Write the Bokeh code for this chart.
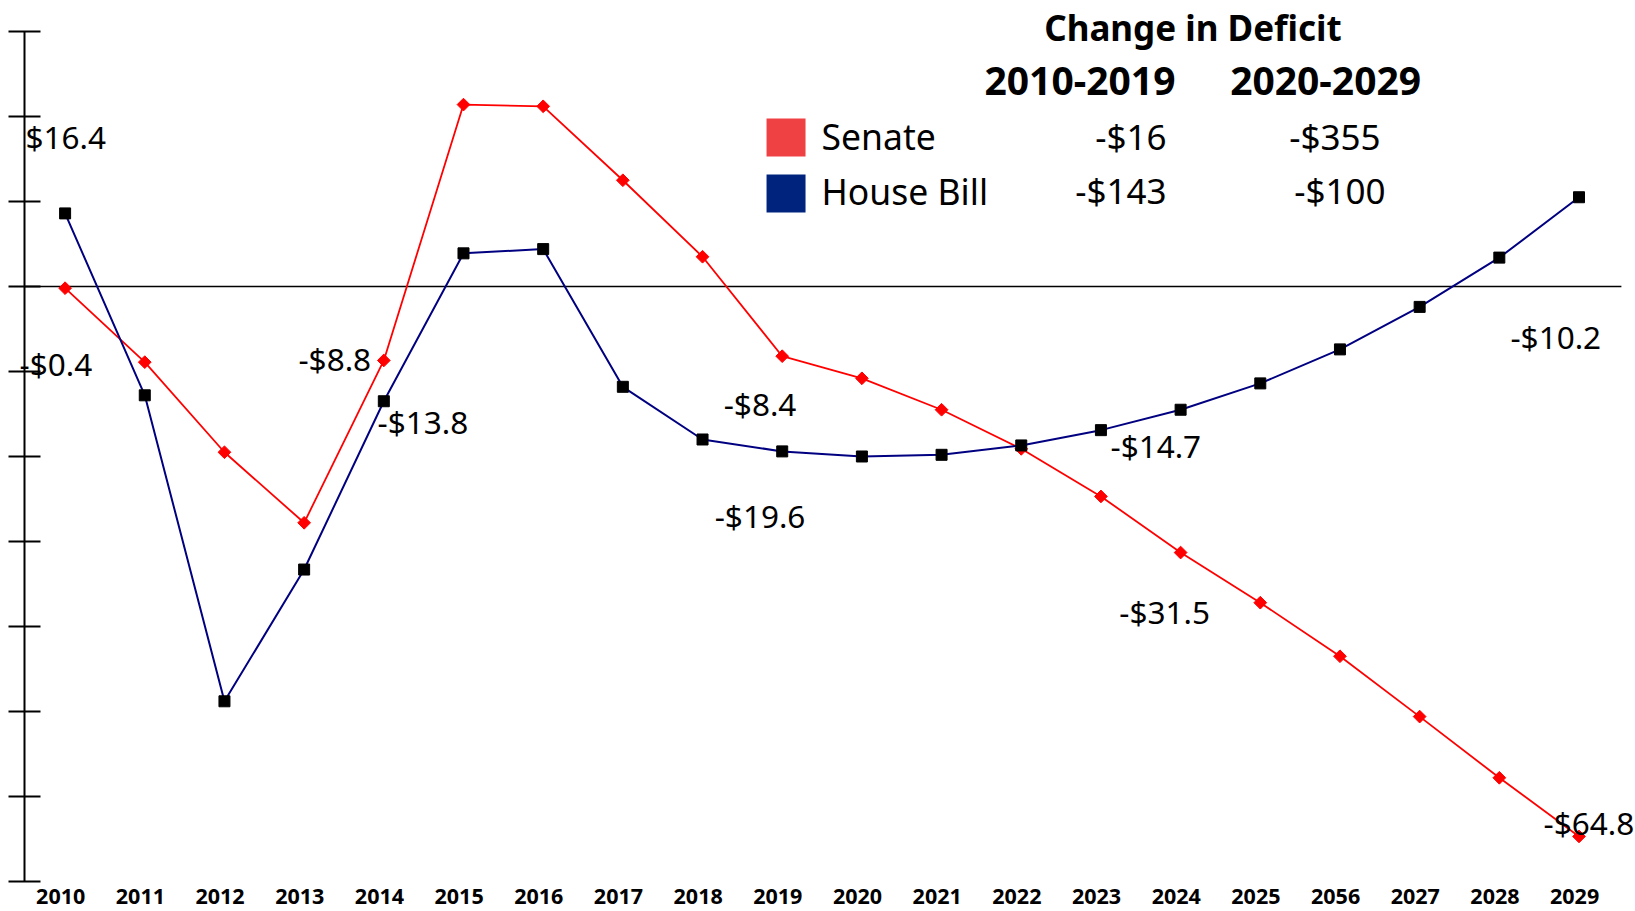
import math
from bokeh.plotting import figure
from bokeh.models import Range1d, LinearAxis, FixedTicker, ColumnDataSource, LabelSet
from bokeh.core.properties import value
from bokeh.embed import file_html
from bokeh.resources import INLINE

# ---- data ----
years = ["2010", "2011", "2012", "2013", "2014", "2015", "2016", "2017", "2018", "2019",
         "2020", "2021", "2022", "2023", "2024", "2025", "2056", "2027", "2028", "2029"]
senate = [-0.2, -8.9, -19.5, -27.8, -8.7, 21.4, 21.2, 12.5, 3.5, -8.2,
          -10.8, -14.5, -19.1, -24.7, -31.3, -37.2, -43.5, -50.6, -57.8, -64.7]
house = [8.6, -12.8, -48.8, -33.3, -13.5, 3.9, 4.4, -11.8, -18.0, -19.4,
         -20.0, -19.8, -18.7, -16.9, -14.5, -11.4, -7.4, -2.4, 3.4, 10.5]

point_labels = ["$16.4", "-$0.4", "-$8.8", "-$13.8", "-$8.4", "-$19.6", "-$14.7", "-$31.5", "-$10.2", "-$64.8"]
point_label_x = [-0.497, -0.572, 2.929, 3.921, 8.266, 8.153, 13.12, 13.23, 18.14, 18.555]
point_label_y = [17.65, -9.06, -8.47, -15.88, -13.76, -26.94, -18.71, -38.24, -5.88, -63.06]

table_title = "Change in Deficit"
period_headers = ["2010-2019", "2020-2029"]
series_names = ["Senate", "House Bill"]
series_colors = ["#EF4044", "#00247D"]
totals_2010_2019 = ["-$16", "-$143"]
totals_2020_2029 = ["-$355", "-$100"]

FONT = value("Noto Sans")

x = list(range(len(years)))
axis_x = -0.5095          # where the vertical axis sits
axis_end_x = 19.532       # where the zero line ends

p = figure(width=1635, height=911,
           x_range=Range1d(-0.8107, 19.709), y_range=Range1d(-73.53, 33.647),
           output_backend="svg", toolbar_location=None,
           x_axis_type=None, y_axis_type=None,
           min_border_left=0, min_border_right=0, min_border_top=0, min_border_bottom=0)
p.outline_line_color = None
p.background_fill_color = "white"

yaxis = LinearAxis(bounds=(-70, 30), fixed_location=axis_x,
                   ticker=FixedTicker(ticks=list(range(-70, 31, 10)), minor_ticks=[]))
yaxis.axis_line_width = 2
yaxis.axis_line_color = "black"
yaxis.major_tick_line_width = 2
yaxis.major_tick_line_color = "black"
yaxis.major_tick_in = 16
yaxis.major_tick_out = 16
yaxis.minor_tick_line_color = None
yaxis.major_label_text_font_size = "1px"
yaxis.major_label_text_color = None
yaxis.major_label_standoff = 0
p.add_layout(yaxis, "left")

# zero line
p.segment(x0=[axis_x], y0=[0], x1=[axis_end_x], y1=[0], line_color="black", line_width=1.5)

# Senate
p.line(x, senate, line_color="#FF0000", line_width=1.8)
p.scatter(x, senate, marker="square", angle=math.pi / 4, size=9, fill_color="#FF0000", line_color="#FF0000")
# House
p.line(x, house, line_color="#000080", line_width=2)
p.scatter(x, house, marker="square", size=11, fill_color="black", line_color="black")

def labels(xs, ys, texts, size, align="left", style="normal"):
    src = ColumnDataSource(dict(x=xs, y=ys, t=texts))
    ls = LabelSet(x="x", y="y", text="t", source=src, text_font=FONT, text_font_size=size,
                  text_font_style=style, text_align=align, text_baseline="middle", text_color="black")
    p.add_layout(ls)

# x tick labels (drawn slightly left of each point, as in the original)
labels([i - 0.055 for i in x], [-71.8] * len(years), years, "21.5px", align="center", style="bold")

# point labels
labels(point_label_x, point_label_y, point_labels, "31.5px")

# table / legend
labels([14.155], [30.47], [table_title], "35px", align="center", style="bold")
labels([12.737, 15.82], [24.12, 24.12], period_headers, "39px", align="center", style="bold")
row_y = [17.65, 11.29]
p.rect(x=[9.048, 9.048], y=[17.53, 10.94], width=39, height=38,
       width_units="screen", height_units="screen", fill_color=series_colors, line_color=None)
labels([9.494, 9.494], row_y, series_names, "35.5px")
labels([13.823, 13.823], row_y, totals_2010_2019, "35px", align="right")
labels([15.937, 16.0], row_y, totals_2020_2029, "35px", align="center")

open("out.html", "w").write(file_html(p, INLINE))
